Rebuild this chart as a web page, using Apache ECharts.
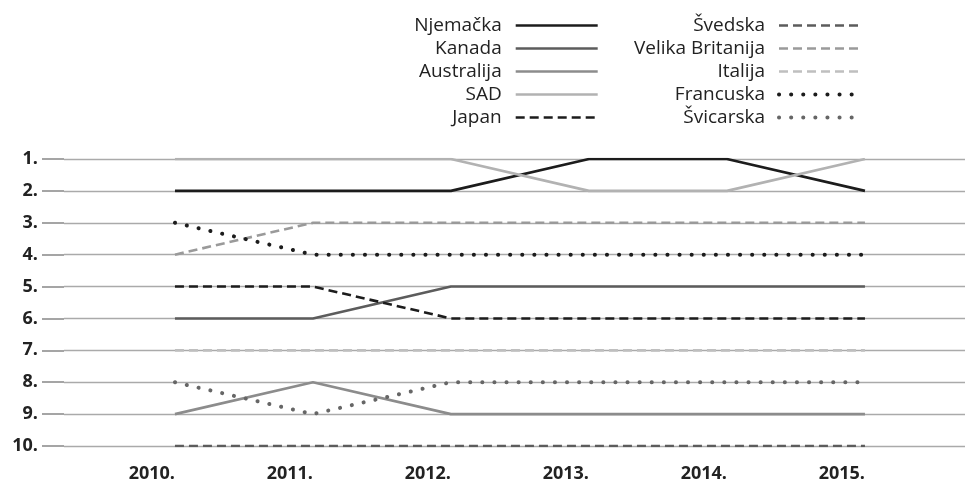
<!DOCTYPE html>
<html>
<head>
<meta charset="utf-8">
<script src="https://cdn.jsdelivr.net/npm/echarts@6/dist/echarts.min.js"></script>
<style>html,body{margin:0;padding:0;background:#fff}#c{width:965px;height:484px}</style>
</head>
<body>
<div id="c"></div>
<script>
const years = [2010, 2011, 2012, 2013, 2014, 2015];
const rankTicks = [1, 2, 3, 4, 5, 6, 7, 8, 9, 10];

const njemacka = [2, 2, 2, 1, 1, 2];
const kanada = [6, 6, 5, 5, 5, 5];
const australija = [9, 8, 9, 9, 9, 9];
const sad = [1, 1, 1, 2, 2, 1];
const japan = [5, 5, 6, 6, 6, 6];
const svedska = [10, 10, 10, 10, 10, 10];
const velikaBritanija = [4, 3, 3, 3, 3, 3];
const italija = [7, 7, 7, 7, 7, 7];
const francuska = [3, 4, 4, 4, 4, 4];
const svicarska = [8, 9, 8, 8, 8, 8];

const FONT = '"Open Sans", "Noto Sans", sans-serif';
const DOT = [0.1, 12];
const DASH = [9, 5];

const defs = [
  { name: 'Njemačka', data: njemacka, color: '#1c1c1c', type: 'solid', width: 2.6 },
  { name: 'Kanada', data: kanada, color: '#5c5c5c', type: 'solid', width: 2.6 },
  { name: 'Australija', data: australija, color: '#8c8c8c', type: 'solid', width: 2.6 },
  { name: 'SAD', data: sad, color: '#b2b2b2', type: 'solid', width: 2.6 },
  { name: 'Japan', data: japan, color: '#1c1c1c', type: DASH, width: 2.6 },
  { name: 'Švedska', data: svedska, color: '#5c5c5c', type: DASH, width: 2.6 },
  { name: 'Velika Britanija', data: velikaBritanija, color: '#9a9a9a', type: DASH, width: 2.6 },
  { name: 'Italija', data: italija, color: '#bfbfbf', type: DASH, width: 2.6 },
  { name: 'Francuska', data: francuska, color: '#1c1c1c', type: DOT, width: 4, cap: 'round' },
  { name: 'Švicarska', data: svicarska, color: '#666666', type: DOT, width: 4, cap: 'round' }
];

const series = defs.map(d => ({
  name: d.name,
  type: 'line',
  symbol: 'none',
  showSymbol: false,
  animation: false,
  color: d.color,
  data: years.map((y, i) => [y, d.data[i]]),
  lineStyle: { color: d.color, width: d.width, type: d.type, cap: d.cap || 'butt' }
}));

const legendItem = d => ({
  name: d.name,
  lineStyle: { color: d.color, width: d.width, type: d.type, cap: d.cap || 'butt' }
});

const legendBase = {
  orient: 'vertical',
  align: 'right',
  top: 16,
  padding: 0,
  itemWidth: 82,
  itemHeight: 14,
  itemGap: 4,
  selectedMode: false,
  itemStyle: { opacity: 0 },
  textStyle: { fontFamily: FONT, fontSize: 19, color: '#222', lineHeight: 18, padding: [0, 9, 0, 0] }
};

const option = {
  backgroundColor: '#fff',
  animation: false,
  legend: [
    Object.assign({}, legendBase, { right: 366, data: defs.slice(0, 5).map(legendItem) }),
    Object.assign({}, legendBase, { right: 102, data: defs.slice(5).map(legendItem) })
  ],
  grid: { left: 64, right: 0, top: 159, bottom: 38, containLabel: false, outerBoundsMode: 'none' },
  xAxis: {
    type: 'value',
    min: 2009.196,
    max: 2015.725,
    axisLine: { show: false },
    axisTick: { show: false },
    splitLine: { show: false },
    axisLabel: {
      customValues: years,
      formatter: v => v + '.',
      align: 'right',
      margin: 19,
      fontFamily: FONT,
      fontWeight: 'bold',
      fontSize: 18,
      color: '#222'
    }
  },
  yAxis: {
    type: 'value',
    inverse: true,
    min: 1,
    max: 10,
    interval: 1,
    axisLine: { show: false },
    axisTick: { show: true, length: 22, lineStyle: { color: '#888', width: 1.5 } },
    splitLine: { show: true, lineStyle: { color: '#aaa', width: 1.3 } },
    axisLabel: {
      formatter: v => rankTicks.indexOf(v) >= 0 ? v + '.' : '',
      margin: 26,
      fontFamily: FONT,
      fontWeight: 'bold',
      fontSize: 18,
      color: '#222'
    }
  },
  series: series
};

const chart = echarts.init(document.getElementById('c'), null, { renderer: 'canvas' });
chart.setOption(option);
</script>
</body>
</html>
